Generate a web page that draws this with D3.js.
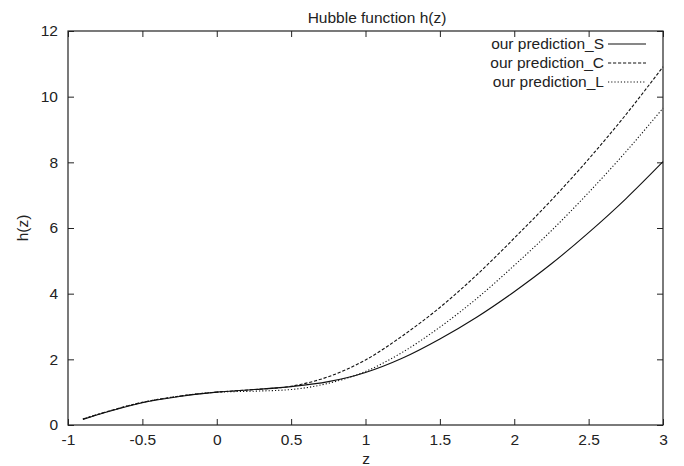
<!DOCTYPE html>
<html>
<head>
<meta charset="UTF-8" />
<title>Hubble function h(z)</title>
<script src="https://d3js.org/d3.v7.min.js"></script>
<style>
  body { margin: 0; background: #fff; }
  svg text { font-family: "Liberation Sans", Arial, Helvetica, sans-serif; fill: #222; }
  .curve { fill: none; stroke: #111; stroke-width: 1.1; }
  .frame { fill: none; stroke: #222; stroke-width: 1.2; }
  .tick line { stroke: #222; }
</style>
</head>
<body>
<script type="text/javascript">
var width = 684;
var height = 466;

// chart values
var zValues   = [-0.9, -0.75, -0.5, -0.25, 0, 0.25, 0.5, 0.75, 1, 1.25, 1.5, 1.75, 2, 2.25, 2.5, 2.75, 3];
var hS        = [0.17, 0.38, 0.68, 0.87, 1.0, 1.08, 1.17, 1.32, 1.60, 2.04, 2.62, 3.29, 4.06, 4.91, 5.86, 6.89, 8.02];
var hC        = [0.18, 0.39, 0.69, 0.88, 1.0, 1.08, 1.18, 1.47, 1.98, 2.72, 3.58, 4.58, 5.69, 6.85, 8.10, 9.45, 10.91];
var hL        = [0.18, 0.39, 0.69, 0.88, 1.0, 1.03, 1.08, 1.27, 1.63, 2.22, 2.98, 3.86, 4.86, 5.92, 7.08, 8.32, 9.65];
var seriesNames = ["our prediction_S", "our prediction_C", "our prediction_L"];
var xTicks = [-1, -0.5, 0, 0.5, 1, 1.5, 2, 2.5, 3];
var yTicks = [0, 2, 4, 6, 8, 10, 12];

var padL = 68, padR = 663, padT = 31, padB = 425;

var svg = d3.select("body").append("svg").attr("width", width).attr("height", height);

var x = d3.scaleLinear().domain([-1, 3]).range([padL, padR]);
var y = d3.scaleLinear().domain([0, 12]).range([padB, padT]);

var fmt = function(d) { return String(d); };

var gx = svg.append("g").attr("transform", "translate(0," + padB + ")")
	.call(d3.axisBottom(x).tickValues(xTicks).tickFormat(fmt).tickSize(-6).tickPadding(9));
var gxt = svg.append("g").attr("transform", "translate(0," + padT + ")")
	.call(d3.axisTop(x).tickValues(xTicks).tickFormat("").tickSize(-6));
var gy = svg.append("g").attr("transform", "translate(" + padL + ",0)")
	.call(d3.axisLeft(y).tickValues(yTicks).tickFormat(fmt).tickSize(-6).tickPadding(10));
var gyr = svg.append("g").attr("transform", "translate(" + padR + ",0)")
	.call(d3.axisRight(y).tickValues(yTicks).tickFormat("").tickSize(-6));

[gx, gxt, gy, gyr].forEach(function(g) {
	g.select(".domain").remove();
	g.selectAll("text").style("font-size", "15.5px").attr("fill", "#222");
	g.selectAll(".tick line").attr("stroke", "#222");
});

svg.append("rect").attr("class", "frame")
	.attr("x", padL).attr("y", padT)
	.attr("width", padR - padL).attr("height", padB - padT);

svg.append("text").attr("x", 377).attr("y", 23).attr("text-anchor", "middle")
	.style("font-size", "15.5px").text("Hubble function h(z)");
svg.append("text").attr("x", 366).attr("y", 464).attr("text-anchor", "middle")
	.style("font-size", "15.5px").text("z");
svg.append("text").attr("transform", "translate(28,228) rotate(-90)").attr("text-anchor", "middle")
	.style("font-size", "15.5px").text("h(z)");

var dashes = [null, "3.2,1.8", "1.2,2"];
var data = [hS, hC, hL];

var line = d3.line()
	.x(function(d) { return x(d[0]); })
	.y(function(d) { return y(d[1]); })
	.curve(d3.curveMonotoneX);

data.forEach(function(vals, i) {
	var pts = zValues.map(function(z, j) { return [z, vals[j]]; });
	svg.append("path").datum(pts)
		.attr("class", "curve")
		.attr("stroke-dasharray", dashes[i])
		.attr("d", line);

	var ly = 44 + i * 19;
	svg.append("text").attr("x", 604).attr("y", ly).attr("dy", "0.35em")
		.attr("text-anchor", "end").style("font-size", "15.5px").text(seriesNames[i]);
	svg.append("line").attr("class", "curve")
		.attr("x1", 608).attr("x2", 646).attr("y1", ly).attr("y2", ly)
		.attr("stroke-dasharray", dashes[i]);
});
</script>
</body>
</html>
